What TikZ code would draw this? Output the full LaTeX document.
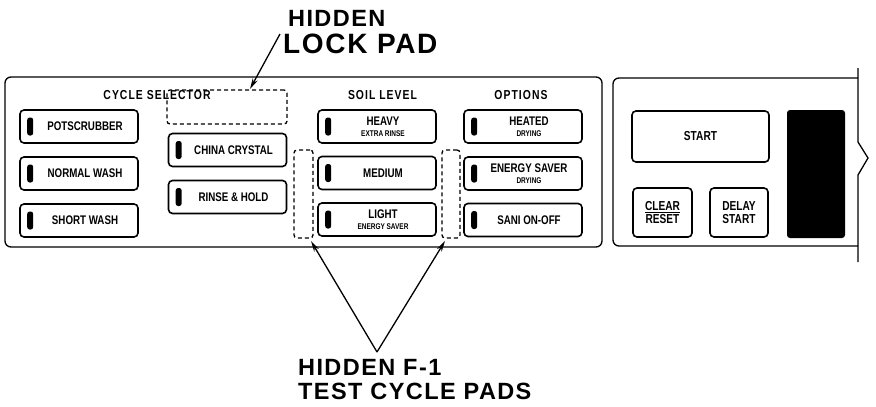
\documentclass[tikz,border=0pt]{standalone}
\usepackage{fontspec}
\setmainfont{Liberation Sans}
\newfontfamily\condf[FakeStretch=0.78]{Liberation Sans}
\newfontfamily\titlef[FakeStretch=0.8,LetterSpace=8]{Liberation Sans}
\newfontfamily\bigf[LetterSpace=6]{Liberation Sans}
\usetikzlibrary{arrows.meta,calc}
\newcommand\smtxt{\fontsize{8.3}{9}\selectfont}
\newcommand\padbtn[4]{%
  \node[btn] (#1) at (#2,#3) {};
  \node[lamp] (#1lamp) at ($(#1.west)+(11,0)$) {};
  \node[lbl] (#1txt) at ($(#1.center)+(6,0)$) {#4};
}
\begin{document}
\begin{tikzpicture}[x=1pt,y=-1pt,
  panel/.style={draw, line width=1.3pt, rounded corners=6pt},
  btn/.style={draw, line width=1.6pt, rounded corners=4pt, minimum width=118pt, minimum height=33pt, inner sep=0pt},
  lamp/.style={fill=black, rounded corners=2.5pt, minimum width=6pt, minimum height=18pt, inner sep=0pt},
  lbl/.style={font=\condf\bfseries\fontsize{12.5}{12}\selectfont, align=center, inner sep=0pt},
  ttl/.style={font=\titlef\bfseries\fontsize{13}{13}\selectfont, inner sep=0pt},
  hidden/.style={draw, dash pattern=on 4pt off 3pt, line width=1.3pt, rounded corners=3pt, inner sep=0pt},
  callout/.style={font=\bigf\bfseries\fontsize{23.5}{27}\selectfont, anchor=base west, inner sep=0pt},
  arr/.style={line width=1.3pt, -{Stealth[length=11pt,width=5.5pt]}}]
\useasboundingbox (0,0) rectangle (876,407);

% panels
\draw[panel] (5,77) rectangle (602,247);
\draw[panel] (858,78) -- (613,78) -- (613,246) -- (858,246);
\draw[line width=1.3pt] (858,68) -- (858,142) -- (868,158) -- (858,175) -- (858,262);

% section titles
\node[ttl] (tcycle) at (157,95) {CYCLE SELECTOR};
\node[ttl] (tsoil) at (382.5,95) {SOIL LEVEL};
\node[ttl] (topt) at (521,95) {OPTIONS};

% hidden pads
\node[hidden, minimum width=120pt, minimum height=34pt] (lock) at (227,107) {};
\node[hidden, minimum width=19pt, minimum height=88pt] (padL) at (303.5,194) {};
\node[hidden, minimum width=18pt, minimum height=88pt] (padR) at (451,194) {};

% buttons
\padbtn{pots}{79}{126.5}{POTSCRUBBER}
\padbtn{normal}{79}{173.5}{NORMAL WASH}
\padbtn{short}{79}{220.5}{SHORT WASH}
\padbtn{china}{227.5}{150}{CHINA CRYSTAL}
\padbtn{rinse}{227.5}{197}{RINSE \& HOLD}
\padbtn{heavy}{377}{126.5}{HEAVY\\[-1pt]{\smtxt EXTRA RINSE}}
\padbtn{medium}{377}{173}{MEDIUM}
\padbtn{light}{377}{219.5}{LIGHT\\[-1pt]{\smtxt ENERGY SAVER}}
\padbtn{heated}{523}{126.5}{HEATED\\[-1pt]{\smtxt DRYING}}
\padbtn{esaver}{523}{173.5}{ENERGY SAVER\\[-1pt]{\smtxt DRYING}}
\padbtn{sani}{523}{220}{SANI ON-OFF}

% right panel controls
\node[btn, minimum width=137pt, minimum height=51pt, font=\condf\bfseries\fontsize{13}{12}\selectfont] (start) at (700.5,136.5) {START};
\node[btn, minimum width=59pt, minimum height=49pt, font=\condf\bfseries\fontsize{13}{13.5}\selectfont, align=center] (clear) at (662.5,212.5) {\underline{CLEAR}\\RESET};
\node[btn, minimum width=58pt, minimum height=49pt, font=\condf\bfseries\fontsize{13}{13.5}\selectfont, align=center] (delay) at (739,212.5) {DELAY\\START};
\node[fill=black, rounded corners=3pt, minimum width=58pt, minimum height=128pt, inner sep=0pt] (display) at (816,174) {};

% callouts
\node[callout] (lockA) at (288,26) {HIDDEN};
\node[callout, font=\bigf\bfseries\fontsize{28}{30}\selectfont] (lockB) at (283,53) {LOCK PAD};
\node[callout] (testA) at (298,375) {HIDDEN F-1};
\node[callout] (testB) at (298,399) {TEST CYCLE PADS};

\coordinate (lockfrom) at (280,34);
\coordinate (locktip) at (250,89);
\coordinate (apex) at (377,352);
\coordinate (tipL) at (311,241);
\coordinate (tipR) at (445,241);
\draw[arr] (lockfrom) -- (locktip);
\draw[arr] (apex) -- (tipL);
\draw[arr] (apex) -- (tipR);
\end{tikzpicture}
\end{document}
